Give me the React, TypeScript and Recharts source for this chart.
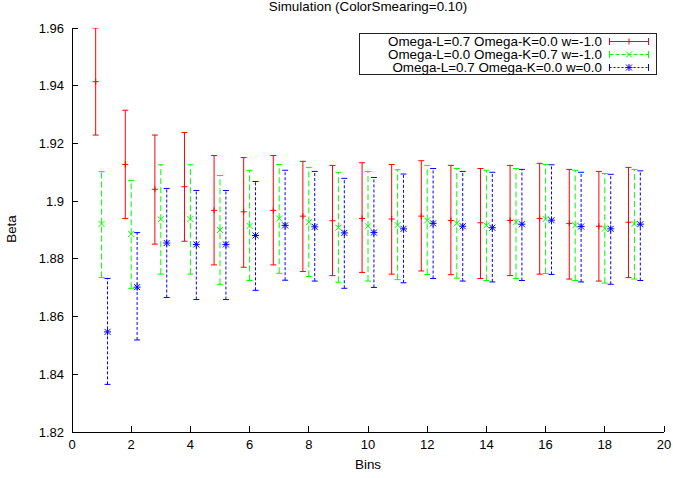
import React from 'react';
import { ScatterChart, Scatter, XAxis, YAxis } from 'recharts';

const bins = [1, 2, 3, 4, 5, 6, 7, 8, 9, 10, 11, 12, 13, 14, 15, 16, 17, 18, 19];

const redBeta = [1.9414, 1.9127, 1.9041, 1.9050, 1.8968, 1.8963, 1.8968, 1.8948, 1.8932, 1.8940, 1.8938, 1.8948, 1.8933, 1.8925, 1.8933, 1.8940, 1.8923, 1.8913, 1.8927];
const redLow = [1.9229, 1.8940, 1.8851, 1.8861, 1.8779, 1.8771, 1.8779, 1.8756, 1.8742, 1.8753, 1.8747, 1.8758, 1.8745, 1.8732, 1.8742, 1.8747, 1.8730, 1.8723, 1.8735];
const redHigh = [1.9600, 1.9315, 1.9229, 1.9238, 1.9158, 1.9151, 1.9158, 1.9138, 1.9124, 1.9133, 1.9127, 1.9140, 1.9124, 1.9113, 1.9124, 1.9131, 1.9110, 1.9103, 1.9117];

const greenBeta = [1.8921, 1.8886, 1.8937, 1.8938, 1.8900, 1.8914, 1.8940, 1.8927, 1.8908, 1.8913, 1.8917, 1.8933, 1.8923, 1.8916, 1.8927, 1.8938, 1.8916, 1.8905, 1.8921];
const greenLow = [1.8735, 1.8698, 1.8747, 1.8747, 1.8712, 1.8725, 1.8750, 1.8739, 1.8719, 1.8723, 1.8728, 1.8746, 1.8733, 1.8725, 1.8732, 1.8749, 1.8725, 1.8716, 1.8730];
const greenHigh = [1.9102, 1.9072, 1.9126, 1.9126, 1.9089, 1.9107, 1.9127, 1.9117, 1.9100, 1.9103, 1.9109, 1.9124, 1.9113, 1.9107, 1.9113, 1.9127, 1.9107, 1.9096, 1.9110];

const blueBeta = [1.8547, 1.8702, 1.8855, 1.8850, 1.8850, 1.8881, 1.8916, 1.8911, 1.8890, 1.8891, 1.8904, 1.8923, 1.8913, 1.8908, 1.8920, 1.8934, 1.8912, 1.8904, 1.8920];
const blueLow = [1.8365, 1.8519, 1.8666, 1.8659, 1.8659, 1.8691, 1.8726, 1.8723, 1.8698, 1.8701, 1.8717, 1.8732, 1.8723, 1.8720, 1.8725, 1.8746, 1.8720, 1.8712, 1.8725];
const blueHigh = [1.8732, 1.8891, 1.9044, 1.9037, 1.9037, 1.9068, 1.9107, 1.9103, 1.9079, 1.9082, 1.9094, 1.9113, 1.9103, 1.9100, 1.9110, 1.9126, 1.9100, 1.9093, 1.9105];

const xTicks = [0, 2, 4, 6, 8, 10, 12, 14, 16, 18, 20];
const yTicks = [1.82, 1.84, 1.86, 1.88, 1.9, 1.92, 1.94, 1.96];

const seriesNames = [
  'Omega-L=0.7 Omega-K=0.0 w=-1.0',
  'Omega-L=0.0 Omega-K=0.7 w=-1.0',
  'Omega-L=0.7 Omega-K=0.0 w=0.0',
];
const title = 'Simulation (ColorSmearing=0.10)';
const xLabel = 'Bins';
const yLabel = 'Beta';

const FONT = '"Liberation Sans", Arial, sans-serif';
const RED = '#ff0000';
const GREEN = '#00ff00';
const BLUE = '#0000ff';
const AXIS = '#000000';

const Plus = (p: any) => {
  const { cx, cy } = p;
  return (
    <g stroke={RED} strokeWidth={1}>
      <line x1={cx - 3} y1={cy} x2={cx + 3} y2={cy} />
      <line x1={cx} y1={cy - 3} x2={cx} y2={cy + 3} />
    </g>
  );
};
const Cross = (p: any) => {
  const { cx, cy } = p;
  return (
    <g stroke={GREEN} strokeWidth={1}>
      <line x1={cx - 3} y1={cy - 3} x2={cx + 3} y2={cy + 3} />
      <line x1={cx - 3} y1={cy + 3} x2={cx + 3} y2={cy - 3} />
    </g>
  );
};
const Star = (p: any) => {
  const { cx, cy } = p;
  return (
    <g stroke={BLUE} strokeWidth={1}>
      <line x1={cx - 3.5} y1={cy} x2={cx + 3.5} y2={cy} />
      <line x1={cx} y1={cy - 3.5} x2={cx} y2={cy + 3.5} />
      <line x1={cx - 3} y1={cy - 3} x2={cx + 3} y2={cy + 3} />
      <line x1={cx - 3} y1={cy + 3} x2={cx + 3} y2={cy - 3} />
    </g>
  );
};

const makeCap = (color: string) => (p: any) => {
  const { cx, cy } = p;
  return <line x1={cx - 3} y1={cy} x2={cx + 3} y2={cy} stroke={color} strokeWidth={1} />;
};

const series = [
  { id: 'red', shift: -0.2, beta: redBeta, low: redLow, high: redHigh, color: RED, dash: undefined as string | undefined, Marker: Plus },
  { id: 'green', shift: 0, beta: greenBeta, low: greenLow, high: greenHigh, color: GREEN, dash: '6 3', Marker: Cross },
  { id: 'blue', shift: 0.2, beta: blueBeta, low: blueLow, high: blueHigh, color: BLUE, dash: '3 2', Marker: Star },
];

const LegendBox = () => (
  <div
    style={{
      position: 'absolute',
      left: 359,
      top: 33,
      width: 298,
      height: 42,
      border: '1px solid #222',
      boxSizing: 'border-box',
      background: '#fff',
      paddingTop: 1,
      fontFamily: FONT,
      fontSize: 13.4,
      color: '#000',
    }}
  >
    {seriesNames.map((name, i) => {
      const s = series[i];
      const M = s.Marker;
      const legendDash = i === 1 ? '4 2' : i === 2 ? '2 2' : undefined;
      return (
        <div key={name} style={{ display: 'flex', alignItems: 'center', height: 13 }}>
          <div style={{ width: 242, textAlign: 'right', whiteSpace: 'nowrap', lineHeight: '13px' }}>{name}</div>
          <svg width={42} height={13} style={{ marginLeft: 7, display: 'block' }}>
            <g stroke={s.color} strokeWidth={1}>
              <line x1={0.5} y1={6.5} x2={39.5} y2={6.5} strokeDasharray={legendDash} />
              <line x1={0.5} y1={3} x2={0.5} y2={10} />
              <line x1={39.5} y1={3} x2={39.5} y2={10} />
            </g>
            <M cx={20} cy={6.5} />
          </svg>
        </div>
      );
    })}
  </div>
);

const tickStyle = { fill: '#000', fontSize: 13, fontFamily: FONT };
const axisLine = { stroke: AXIS, strokeWidth: 1, shapeRendering: 'crispEdges' };
const tickLine = { stroke: AXIS, strokeWidth: 1, shapeRendering: 'crispEdges' };

export default function App() {
  const errorScatters: React.ReactNode[] = [];
  series.forEach((s) => {
    const cap = makeCap(s.color);
    bins.forEach((b, i) => {
      errorScatters.push(
        <Scatter
          key={`${s.id}-err-${b}`}
          data={[
            { x: b + s.shift, y: s.low[i] },
            { x: b + s.shift, y: s.high[i] },
          ]}
          xAxisId={0}
          yAxisId={0}
          line={{ stroke: s.color, strokeWidth: 1, strokeDasharray: s.dash }}
          shape={cap}
          isAnimationActive={false}
        />
      );
    });
  });
  const markerScatters = series.map((s) => (
    <Scatter
      key={`${s.id}-pts`}
      data={bins.map((b, i) => ({ x: b + s.shift, y: s.beta[i] }))}
      xAxisId={0}
      yAxisId={0}
      shape={s.Marker}
      isAnimationActive={false}
    />
  ));

  return (
    <div style={{ position: 'absolute', left: 0, top: 0, width: 673, height: 478, background: '#fff' }}>
      <div
        style={{
          position: 'absolute',
          left: 0,
          width: 736,
          top: 0,
          textAlign: 'center',
          fontFamily: FONT,
          fontSize: 13.4,
          color: '#000',
          lineHeight: '13px',
        }}
      >
        {title}
      </div>
      <ScatterChart width={673} height={478} margin={{ top: 28, right: 9, bottom: 0, left: 0 }}>
        <XAxis
          dataKey="x"
          type="number"
          xAxisId={0}
          domain={[0, 20]}
          ticks={xTicks}
          allowDataOverflow
          height={46}
          tickSize={-6}
          tickMargin={14}
          tick={tickStyle}
          axisLine={axisLine}
          tickLine={tickLine}
          label={(props: any) => {
            const vb = props.viewBox;
            return (
              <text x={vb.x + vb.width / 2} y={469} textAnchor="middle" fontFamily={FONT} fontSize={13.4} fill="#000">
                {xLabel}
              </text>
            );
          }}
        />
        <XAxis
          dataKey="x"
          type="number"
          xAxisId="top"
          orientation="top"
          domain={[0, 20]}
          ticks={xTicks}
          allowDataOverflow
          height={0}
          tickSize={-6}
          tickFormatter={() => ''}
          axisLine={axisLine}
          tickLine={tickLine}
        />
        <YAxis
          dataKey="y"
          type="number"
          yAxisId={0}
          domain={[1.82, 1.96]}
          ticks={yTicks}
          allowDataOverflow
          width={72}
          tickSize={-6}
          tickMargin={14}
          tick={tickStyle}
          axisLine={axisLine}
          tickLine={tickLine}
          label={(props: any) => {
            const vb = props.viewBox;
            const cx = 11;
            const cy = vb.y + vb.height / 2 - 1;
            return (
              <text
                x={cx}
                y={cy}
                transform={`rotate(-90 ${cx} ${cy})`}
                textAnchor="middle"
                dominantBaseline="central"
                fontFamily={FONT}
                fontSize={13.4}
                fill="#000"
              >
                {yLabel}
              </text>
            );
          }}
        />
        <YAxis
          dataKey="y"
          type="number"
          yAxisId="right"
          orientation="right"
          domain={[1.82, 1.96]}
          ticks={yTicks}
          allowDataOverflow
          width={0}
          tickSize={-6}
          tickFormatter={() => ''}
          axisLine={axisLine}
          tickLine={tickLine}
        />
        {errorScatters}
        {markerScatters}
      </ScatterChart>
      <LegendBox />
    </div>
  );
}
